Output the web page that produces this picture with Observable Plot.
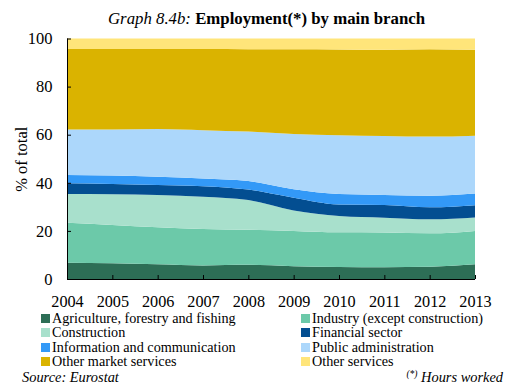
<!DOCTYPE html>
<html>
<head>
<meta charset="utf-8">
<script src="https://cdn.jsdelivr.net/npm/d3@7"></script>
<script src="https://cdn.jsdelivr.net/npm/@observablehq/plot@0.6"></script>
<style>
  body { margin: 0; background: #fff; font-family: "Liberation Serif", serif; color: #000; }
  #wrap { width: 505px; height: 385px; position: relative; overflow: hidden; background: #fff; }
  #title { position: absolute; top: 9px; left: 14px; width: 505px; text-align: center; font-size: 16.8px; line-height: 19px; }
  #title i { font-style: italic; }
  #title b { font-weight: bold; }
  #chart { position: absolute; top: 28px; left: 0; }
  #chart svg, #chart svg text { font-family: "Liberation Serif", serif !important; }
  .item { position: absolute; font-size: 14.2px; line-height: 15px; white-space: nowrap; }
  .sw { display: inline-block; width: 9px; height: 9px; margin-right: 2px; vertical-align: 0px; }
  #src { position: absolute; left: 22px; top: 370px; font-size: 14.4px; font-style: italic; line-height: 14px; }
  #note { position: absolute; right: 2px; top: 370px; font-size: 14.4px; font-style: italic; line-height: 14px; }
  #note sup { font-size: 9.5px; vertical-align: 5px; line-height: 0; }
</style>
</head>
<body>
<div id="wrap">
  <div id="title"><i>Graph 8.4b:</i> <b>Employment(*) by main branch</b></div>
  <div id="chart"></div>
  <div id="legend"></div>
  <div id="src">Source: Eurostat</div>
  <div id="note"><sup>(*)</sup> Hours worked</div>
</div>
<script>
const years = [2004, 2005, 2006, 2007, 2008, 2009, 2010, 2011, 2012, 2013];
const yTicks = [0, 20, 40, 60, 80, 100];
const branches = [
  "Agriculture, forestry and fishing",
  "Industry (except construction)",
  "Construction",
  "Financial sector",
  "Information and communication",
  "Public administration",
  "Other market services",
  "Other services"
];
const colors = ["#2d6e56", "#6cc9a9", "#a8e0cc", "#034e91", "#3399f7", "#acd7fb", "#dab300", "#ffe57a"];

const agriculture   = [6.8, 6.6, 6.1, 5.6, 5.9, 5.3, 5.0, 4.9, 5.1, 6.1];
const industry      = [16.6, 15.9, 15.4, 15.2, 14.6, 14.7, 14.4, 14.4, 13.9, 13.9];
const construction  = [11.9, 12.7, 13.4, 13.4, 12.3, 8.5, 6.8, 6.2, 5.8, 5.6];
const financial     = [4.5, 4.3, 4.2, 4.4, 4.4, 5.3, 4.8, 5.3, 5.0, 5.1];
const information   = [3.4, 3.5, 3.4, 3.2, 3.5, 3.5, 4.3, 4.1, 4.8, 4.8];
const publicAdmin   = [19.0, 19.2, 19.9, 20.1, 20.6, 23.0, 24.5, 24.6, 24.6, 24.1];
const otherMarket   = [33.4, 33.4, 33.2, 33.7, 34.2, 35.2, 35.6, 35.8, 36.3, 35.7];
const otherServices = [4.4, 4.4, 4.4, 4.4, 4.5, 4.5, 4.6, 4.7, 4.5, 4.7];

const series = [agriculture, industry, construction, financial, information, publicAdmin, otherMarket, otherServices];
const table = [];
series.forEach((vals, i) => vals.forEach((v, j) => table.push({year: years[j], branch: branches[i], value: v})));

const font = "Liberation Serif, serif";
const chart = Plot.plot({
  width: 505,
  height: 280,
  marginTop: 10.5,
  marginBottom: 29,
  marginLeft: 67,
  marginRight: 30,
  style: {fontFamily: font, fontSize: "16px", background: "white", color: "black", overflow: "visible"},
  x: {domain: [2004, 2013]},
  y: {domain: [0, 100]},
  color: {domain: branches, range: colors},
  marks: [
    Plot.areaY(table, {x: "year", y: "value", fill: "branch", order: branches, curve: "monotone-x"}),
    Plot.axisY(yTicks, {tickSize: -4, tickPadding: 19, label: "% of total", labelAnchor: "center", labelOffset: 52, labelArrow: "none", fontSize: 16.5}),
    Plot.axisX(years, {tickSize: -4, tickPadding: 19.5, tickFormat: "d", label: null, fontSize: 16.2}),
    Plot.ruleX([2004]),
    Plot.ruleY([0])
  ]
});
document.getElementById("chart").appendChild(chart);

const legend = document.getElementById("legend");
const rowTop = [310.5, 325.2, 339.6, 354.2];
branches.forEach((b, i) => {
  const d = document.createElement("div");
  d.className = "item";
  d.style.left = (i % 2 === 0 ? 41 : 301) + "px";
  d.style.top = rowTop[Math.floor(i / 2)] + "px";
  d.innerHTML = `<span class="sw" style="background:${colors[i]}"></span>${b}`;
  legend.appendChild(d);
});
</script>
</body>
</html>
